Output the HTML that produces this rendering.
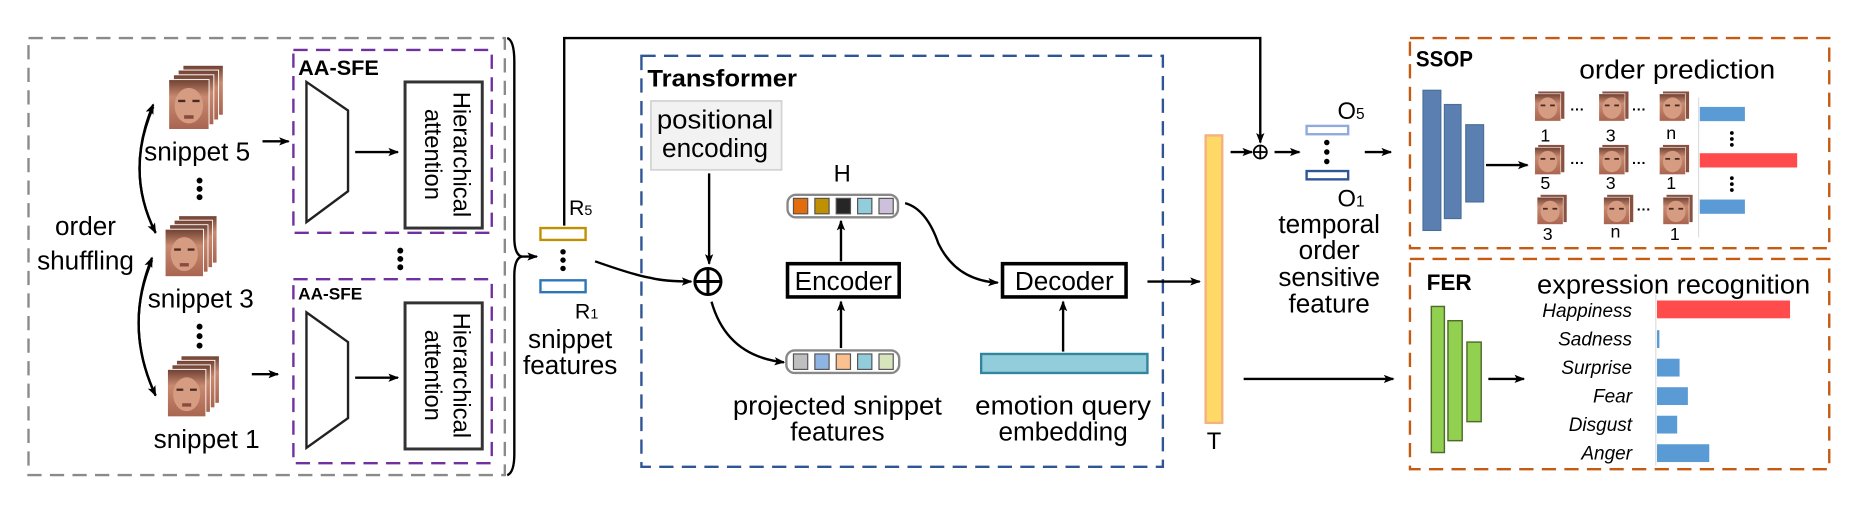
<!DOCTYPE html>
<html><head><meta charset="utf-8"><style>
html,body{margin:0;padding:0;background:#fff;}
svg{display:block;}
text{font-family:"Liberation Sans",sans-serif;fill:#000;}
</style></head><body>
<svg width="1853" height="525" viewBox="0 0 1560 442" preserveAspectRatio="none" xmlns="http://www.w3.org/2000/svg">
<defs>
<marker id="ah" markerWidth="9" markerHeight="8" refX="8" refY="4" orient="auto" markerUnits="userSpaceOnUse"><path d="M0,0.5 L9,4 L0,7.5 L2,4 Z" fill="#000"/></marker>
<linearGradient id="sk" x1="0" y1="0" x2="0" y2="1"><stop offset="0" stop-color="#6e4032"/><stop offset="0.35" stop-color="#c98a70"/><stop offset="1" stop-color="#a86450"/></linearGradient>
<g id="face"><rect x="0" y="0" width="34" height="42" fill="url(#sk)" stroke="#fff" stroke-width="0.8"/><ellipse cx="17" cy="22" rx="12" ry="15" fill="#d69c82"/><rect x="8" y="17" width="6" height="2" fill="#4a2a22"/><rect x="20" y="17" width="6" height="2" fill="#4a2a22"/><rect x="13" y="30" width="8" height="3" fill="#8a4a40"/></g>
<g id="stack"><use href="#face" x="12" y="-12"/><use href="#face" x="8" y="-8"/><use href="#face" x="4" y="-4"/><use href="#face" x="0" y="0"/></g>
<g id="sf"><rect x="3" y="-2" width="22" height="23" fill="#8a5040"/><rect x="0" y="0" width="22" height="23" fill="url(#sk)" stroke="#fff" stroke-width="0.5"/><ellipse cx="11" cy="12" rx="8" ry="9" fill="#d69c82"/><rect x="5" y="9" width="4" height="1.5" fill="#4a2a22"/><rect x="13" y="9" width="4" height="1.5" fill="#4a2a22"/></g>
</defs>

<!-- left gray box -->
<rect x="24" y="32" width="401" height="368" fill="none" stroke="#8a8a8a" stroke-width="2" stroke-dasharray="12,7"/>
<!-- brace -->
<path d="M427,32 Q433,34 433,52 L433,200 Q433,214 439,216 Q433,218 433,232 L433,382 Q433,398 427,400" fill="none" stroke="#000" stroke-width="2"/>
<line x1="437" y1="216" x2="452" y2="216" stroke="#000" stroke-width="2" marker-end="url(#ah)"/>

<!-- AA-SFE top -->
<rect x="247" y="42" width="167" height="154" fill="none" stroke="#7030a0" stroke-width="2" stroke-dasharray="12,7"/>
<text x="251" y="63" font-size="18" font-weight="bold" textLength="68" lengthAdjust="spacingAndGlyphs">AA-SFE</text>
<path d="M258,69 L293,93 L293,161 L258,187 Z" fill="none" stroke="#222" stroke-width="2"/>
<line x1="299" y1="128" x2="335" y2="128" stroke="#000" stroke-width="2" marker-end="url(#ah)"/>
<rect x="341" y="69" width="65" height="123" fill="#fff" stroke="#333" stroke-width="2.5"/>
<text transform="translate(373,130) rotate(90)" font-size="20" text-anchor="middle"><tspan x="0" y="-9">Hierarchical</tspan><tspan x="0" y="15">attention</tspan></text>

<circle cx="337" cy="211" r="2.5"/><circle cx="337" cy="218" r="2.5"/><circle cx="337" cy="225" r="2.5"/>

<!-- AA-SFE bottom -->
<rect x="247" y="235" width="167" height="155" fill="none" stroke="#7030a0" stroke-width="2" stroke-dasharray="12,7"/>
<text x="251" y="252" font-size="14" font-weight="bold" textLength="54" lengthAdjust="spacingAndGlyphs">AA-SFE</text>
<path d="M258,263 L293,288 L293,352 L258,377 Z" fill="none" stroke="#222" stroke-width="2"/>
<line x1="299" y1="318" x2="335" y2="318" stroke="#000" stroke-width="2" marker-end="url(#ah)"/>
<rect x="341" y="255" width="65" height="123" fill="#fff" stroke="#333" stroke-width="2.5"/>
<text transform="translate(373,316) rotate(90)" font-size="20" text-anchor="middle"><tspan x="0" y="-9">Hierarchical</tspan><tspan x="0" y="15">attention</tspan></text>

<!-- snippets -->
<use href="#stack" x="142" y="67"/>
<use href="#stack" x="139" y="193" transform="translate(139,193) scale(0.95) translate(-139,-193)"/>
<use href="#stack" x="141" y="311" transform="translate(141,311) scale(0.95) translate(-141,-311)"/>
<text x="166" y="135" font-size="22" text-anchor="middle">snippet 5</text>
<circle cx="168" cy="152" r="2.5"/><circle cx="168" cy="159" r="2.5"/><circle cx="168" cy="166" r="2.5"/>
<text x="169" y="259" font-size="22" text-anchor="middle">snippet 3</text>
<circle cx="168" cy="275" r="2.5"/><circle cx="168" cy="283" r="2.5"/><circle cx="168" cy="291" r="2.5"/>
<text x="174" y="377" font-size="22" text-anchor="middle">snippet 1</text>
<text x="72" y="198" font-size="22" text-anchor="middle">order</text>
<text x="72" y="227" font-size="22" text-anchor="middle">shuffling</text>
<path d="M129,90 Q105,145 131,196" fill="none" stroke="#000" stroke-width="2" marker-end="url(#ah)"/>
<path d="M131,196 Q105,145 129,88" fill="none" stroke="#000" stroke-width="2" marker-end="url(#ah)"/>
<path d="M128,219 Q104,275 131,333" fill="none" stroke="#000" stroke-width="2" marker-end="url(#ah)"/>
<path d="M131,333 Q104,275 128,217" fill="none" stroke="#000" stroke-width="2" marker-end="url(#ah)"/>
<line x1="221" y1="119" x2="243" y2="119" stroke="#000" stroke-width="2" marker-end="url(#ah)"/>
<line x1="212" y1="315" x2="234" y2="315" stroke="#000" stroke-width="2" marker-end="url(#ah)"/>

<!-- R features -->
<rect x="455" y="192" width="38" height="10" fill="#fff" stroke="#bf9000" stroke-width="2"/>
<rect x="455" y="236" width="38" height="10" fill="#fff" stroke="#2e75b6" stroke-width="2"/>
<circle cx="474" cy="212" r="2.3"/><circle cx="474" cy="219" r="2.3"/><circle cx="474" cy="226" r="2.3"/>
<text x="479" y="181" font-size="18">R<tspan font-size="12">5</tspan></text>
<text x="484" y="268" font-size="18">R<tspan font-size="12">1</tspan></text>
<text x="480" y="293" font-size="22" text-anchor="middle">snippet</text>
<text x="480" y="315" font-size="22" text-anchor="middle">features</text>

<!-- feedback line -->
<path d="M475,190 L475,32 L1061,32 L1061,120" fill="none" stroke="#000" stroke-width="2" marker-end="url(#ah)"/>

<!-- Transformer -->
<rect x="540" y="47" width="439" height="346" fill="none" stroke="#2f5597" stroke-width="2" stroke-dasharray="12,7"/>
<text x="545" y="73" font-size="20" font-weight="bold" textLength="126" lengthAdjust="spacingAndGlyphs">Transformer</text>
<rect x="548" y="85" width="110" height="58" fill="#f2f2f2" stroke="#d4d4d4" stroke-width="1.5"/>
<text x="602" y="108" font-size="22" text-anchor="middle" textLength="98" lengthAdjust="spacingAndGlyphs">positional</text>
<text x="602" y="132" font-size="22" text-anchor="middle">encoding</text>
<line x1="597" y1="146" x2="597" y2="222" stroke="#000" stroke-width="2" marker-end="url(#ah)"/>
<path d="M501,220 Q535,232 548,234 Q560,237 582,237" fill="none" stroke="#000" stroke-width="2" marker-end="url(#ah)"/>
<circle cx="596" cy="237" r="11" fill="none" stroke="#000" stroke-width="2.5"/>
<line x1="585" y1="237" x2="607" y2="237" stroke="#000" stroke-width="2.5"/>
<line x1="596" y1="226" x2="596" y2="248" stroke="#000" stroke-width="2.5"/>
<path d="M599,254 Q612,300 660,305" fill="none" stroke="#000" stroke-width="2" marker-end="url(#ah)"/>

<!-- projected tokens -->
<rect x="662" y="295" width="95" height="19" rx="7" fill="#fff" stroke="#888" stroke-width="2"/>
<rect x="668" y="298" width="12" height="13" fill="#bfbfbf" stroke="#555"/>
<rect x="686" y="298" width="12" height="13" fill="#8eb4e3" stroke="#555"/>
<rect x="704" y="298" width="12" height="13" fill="#fac090" stroke="#555"/>
<rect x="722" y="298" width="12" height="13" fill="#92cddc" stroke="#555"/>
<rect x="740" y="298" width="12" height="13" fill="#d7e4bc" stroke="#555"/>
<text x="705" y="349" font-size="22" text-anchor="middle" textLength="176" lengthAdjust="spacingAndGlyphs">projected snippet</text>
<text x="705" y="371" font-size="22" text-anchor="middle">features</text>

<line x1="708" y1="293" x2="708" y2="254" stroke="#000" stroke-width="2" marker-end="url(#ah)"/>
<rect x="663" y="222" width="94" height="28" fill="#fff" stroke="#000" stroke-width="3"/>
<text x="710" y="244" font-size="22" text-anchor="middle">Encoder</text>
<line x1="708" y1="220" x2="708" y2="186" stroke="#000" stroke-width="2" marker-end="url(#ah)"/>

<!-- H tokens -->
<text x="709" y="153" font-size="20" text-anchor="middle">H</text>
<rect x="663" y="164" width="93" height="19" rx="7" fill="#fff" stroke="#888" stroke-width="2"/>
<rect x="668" y="167" width="12" height="13" fill="#e46c0a" stroke="#555"/>
<rect x="686" y="167" width="12" height="13" fill="#bf9000" stroke="#555"/>
<rect x="704" y="167" width="12" height="13" fill="#262626" stroke="#555"/>
<rect x="722" y="167" width="12" height="13" fill="#92cddc" stroke="#555"/>
<rect x="740" y="167" width="12" height="13" fill="#ccc0da" stroke="#555"/>
<path d="M762,171 Q780,176 790,205 Q805,236 840,238" fill="none" stroke="#000" stroke-width="2" marker-end="url(#ah)"/>

<rect x="844" y="222" width="104" height="28" fill="#fff" stroke="#000" stroke-width="3"/>
<text x="896" y="244" font-size="22" text-anchor="middle">Decoder</text>
<rect x="826" y="298" width="140" height="16" fill="#92cddc" stroke="#31859c" stroke-width="2"/>
<line x1="895" y1="296" x2="895" y2="254" stroke="#000" stroke-width="2" marker-end="url(#ah)"/>
<text x="895" y="349" font-size="22" text-anchor="middle" textLength="148" lengthAdjust="spacingAndGlyphs">emotion query</text>
<text x="895" y="371" font-size="22" text-anchor="middle">embedding</text>
<line x1="966" y1="237" x2="1010" y2="237" stroke="#000" stroke-width="2" marker-end="url(#ah)"/>

<!-- T bar -->
<rect x="1015" y="114" width="14" height="242" fill="#ffd966" stroke="#f4b183" stroke-width="2"/>
<text x="1022" y="378" font-size="20" text-anchor="middle">T</text>

<line x1="1036" y1="128" x2="1054" y2="128" stroke="#000" stroke-width="2" marker-end="url(#ah)"/>
<circle cx="1061" cy="128" r="5.5" fill="none" stroke="#000" stroke-width="1.5"/>
<line x1="1055.5" y1="128" x2="1066.5" y2="128" stroke="#000" stroke-width="1.5"/>
<line x1="1061" y1="122.5" x2="1061" y2="133.5" stroke="#000" stroke-width="1.5"/>
<line x1="1073" y1="128" x2="1094" y2="128" stroke="#000" stroke-width="2" marker-end="url(#ah)"/>
<rect x="1100" y="106" width="35" height="7" fill="#fff" stroke="#8faadc" stroke-width="2"/>
<rect x="1100" y="144" width="35" height="7" fill="#fff" stroke="#2f5597" stroke-width="2"/>
<circle cx="1117" cy="120" r="2.3"/><circle cx="1117" cy="128" r="2.3"/><circle cx="1117" cy="136" r="2.3"/>
<text x="1126" y="100" font-size="20">O<tspan font-size="13">5</tspan></text>
<text x="1126" y="174" font-size="20">O<tspan font-size="13">1</tspan></text>
<line x1="1149" y1="128" x2="1171" y2="128" stroke="#000" stroke-width="2" marker-end="url(#ah)"/>
<text x="1119" y="196" font-size="22" text-anchor="middle">temporal</text>
<text x="1119" y="218" font-size="22" text-anchor="middle">order</text>
<text x="1119" y="241" font-size="22" text-anchor="middle">sensitive</text>
<text x="1119" y="263" font-size="22" text-anchor="middle">feature</text>

<line x1="1047" y1="319" x2="1173" y2="319" stroke="#000" stroke-width="2" marker-end="url(#ah)"/>

<!-- SSOP -->
<rect x="1187" y="32" width="353" height="177" fill="none" stroke="#c55a11" stroke-width="2" stroke-dasharray="12,7"/>
<text x="1192" y="56" font-size="19" font-weight="bold" textLength="48" lengthAdjust="spacingAndGlyphs">SSOP</text>
<text x="1412" y="66" font-size="22" text-anchor="middle" textLength="165" lengthAdjust="spacingAndGlyphs">order prediction</text>
<rect x="1198" y="76" width="15" height="118" fill="#5a7fb0" stroke="#4a6f9a"/>
<rect x="1216" y="88" width="14" height="96" fill="#5a7fb0" stroke="#4a6f9a"/>
<rect x="1234" y="105" width="15" height="65" fill="#5a7fb0" stroke="#4a6f9a"/>
<line x1="1251" y1="139" x2="1286" y2="139" stroke="#000" stroke-width="2" marker-end="url(#ah)"/>

<use href="#sf" x="1292" y="79"/><use href="#sf" x="1346" y="79"/><use href="#sf" x="1397" y="79"/>
<text x="1322" y="96" font-size="12" font-weight="bold">···</text><text x="1374" y="96" font-size="12" font-weight="bold">···</text>
<text x="1301" y="119" font-size="15" text-anchor="middle">1</text><text x="1356" y="119" font-size="15" text-anchor="middle">3</text><text x="1407" y="117" font-size="15" text-anchor="middle">n</text>
<use href="#sf" x="1292" y="124"/><use href="#sf" x="1346" y="124"/><use href="#sf" x="1397" y="124"/>
<text x="1322" y="141" font-size="12" font-weight="bold">···</text><text x="1374" y="141" font-size="12" font-weight="bold">···</text>
<text x="1301" y="159" font-size="15" text-anchor="middle">5</text><text x="1356" y="159" font-size="15" text-anchor="middle">3</text><text x="1407" y="159" font-size="15" text-anchor="middle">1</text>
<use href="#sf" x="1294" y="166"/><use href="#sf" x="1350" y="166"/><use href="#sf" x="1400" y="166"/>
<text x="1378" y="180" font-size="12" font-weight="bold">···</text>
<text x="1303" y="202" font-size="15" text-anchor="middle">3</text><text x="1360" y="200" font-size="15" text-anchor="middle">n</text><text x="1410" y="202" font-size="15" text-anchor="middle">1</text>

<line x1="1430" y1="82" x2="1430" y2="200" stroke="#ddd" stroke-width="1"/>
<rect x="1431" y="90" width="38" height="12" fill="#5b9bd5"/>
<rect x="1431" y="129" width="82" height="12" fill="#ff4b4b"/>
<rect x="1431" y="168" width="38" height="12" fill="#5b9bd5"/>
<circle cx="1458" cy="112" r="1.6"/><circle cx="1458" cy="117" r="1.6"/><circle cx="1458" cy="122" r="1.6"/>
<circle cx="1458" cy="150" r="1.6"/><circle cx="1458" cy="155" r="1.6"/><circle cx="1458" cy="160" r="1.6"/>

<!-- FER -->
<rect x="1187" y="218" width="353" height="177" fill="none" stroke="#c55a11" stroke-width="2" stroke-dasharray="12,7"/>
<text x="1201" y="244" font-size="19" font-weight="bold" textLength="38" lengthAdjust="spacingAndGlyphs">FER</text>
<text x="1409" y="247" font-size="22" text-anchor="middle" textLength="230" lengthAdjust="spacingAndGlyphs">expression recognition</text>
<rect x="1205" y="258" width="11" height="123" fill="#92d050" stroke="#4e6b2a" stroke-width="1.2"/>
<rect x="1219" y="270" width="12" height="101" fill="#92d050" stroke="#4e6b2a" stroke-width="1.2"/>
<rect x="1235" y="288" width="12" height="67" fill="#92d050" stroke="#4e6b2a" stroke-width="1.2"/>
<line x1="1253" y1="319" x2="1283" y2="319" stroke="#000" stroke-width="2" marker-end="url(#ah)"/>

<g font-size="16" font-style="italic" text-anchor="end">
<text x="1374" y="267">Happiness</text>
<text x="1374" y="291">Sadness</text>
<text x="1374" y="315">Surprise</text>
<text x="1374" y="339">Fear</text>
<text x="1374" y="363">Disgust</text>
<text x="1374" y="387">Anger</text>
</g>
<line x1="1394" y1="248" x2="1394" y2="392" stroke="#ddd" stroke-width="1"/>
<rect x="1395" y="253" width="112" height="15" fill="#ff4b4b"/>
<rect x="1395" y="278" width="2" height="15" fill="#5b9bd5"/>
<rect x="1395" y="302" width="19" height="15" fill="#5b9bd5"/>
<rect x="1395" y="326" width="26" height="15" fill="#5b9bd5"/>
<rect x="1395" y="350" width="17" height="15" fill="#5b9bd5"/>
<rect x="1395" y="374" width="44" height="15" fill="#5b9bd5"/>
</svg>
</body></html>
